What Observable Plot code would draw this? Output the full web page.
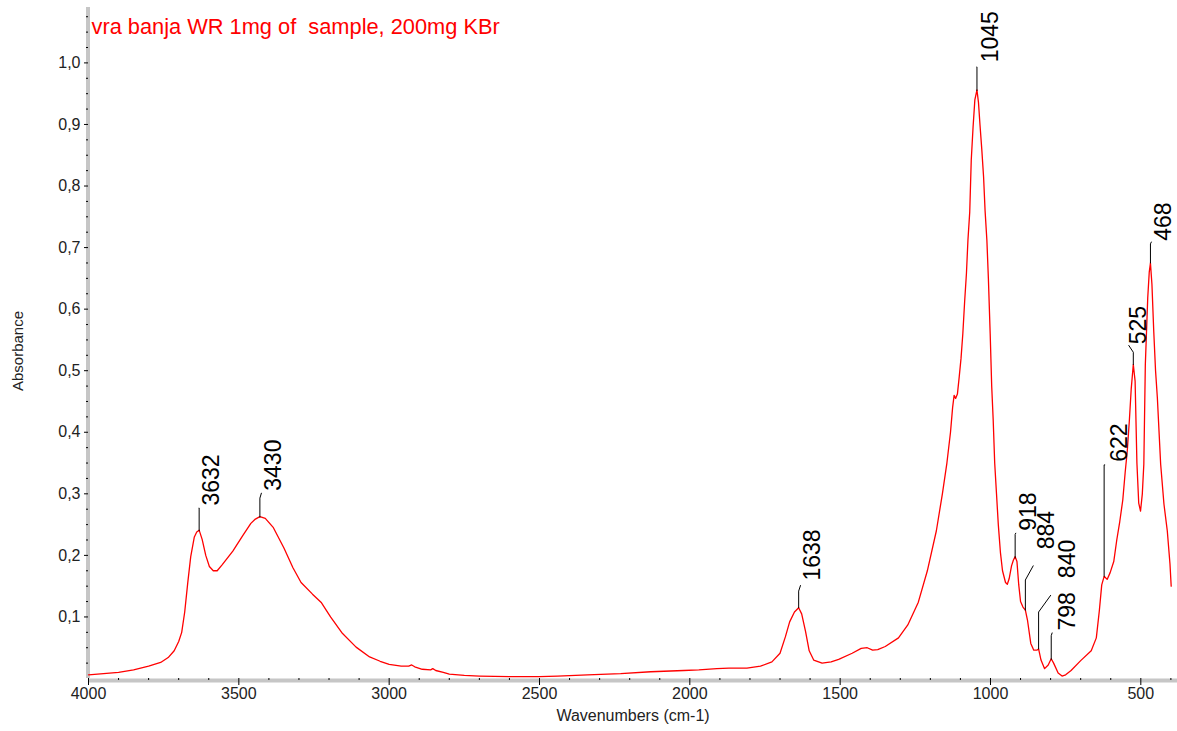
<!DOCTYPE html>
<html><head><meta charset="utf-8">
<script src="https://cdn.jsdelivr.net/npm/d3@7"></script>
<script src="https://cdn.jsdelivr.net/npm/@observablehq/plot@0.6"></script>
<style>
body{margin:0;background:#fff;}
svg{display:block;}
</style>
</head><body><div id="chart"></div>
<script>
const title = "vra banja WR 1mg of  sample, 200mg KBr";
const xLabel = "Wavenumbers (cm-1)";
const yLabel = "Absorbance";

const wavenumbers = [4000,3950,3900,3850,3800,3760,3735,3715,3700,3690,3680,3670,3660,3648,3640,3632,3622,3610,3598,3585,3572,3555,3520,3487,3460,3445,3430,3412,3385,3350,3320,3293,3255,3225,3195,3155,3110,3065,3030,3000,2960,2935,2925,2915,2890,2862,2855,2845,2820,2800,2750,2700,2600,2500,2440,2340,2230,2130,2020,1970,1910,1870,1810,1765,1727,1700,1682,1668,1652,1638,1628,1615,1603,1588,1560,1530,1505,1460,1430,1410,1392,1375,1350,1306,1275,1240,1210,1180,1160,1145,1133,1126,1121,1116,1110,1104,1098,1092,1086,1080,1075,1069,1064,1058,1052,1045,1040,1035,1029,1023,1018,1012,1007,1001,996,991,986,980,974,967,960,950,944,938,930,924,918,912,906,900,892,884,877,866,856,846,840,832,820,808,798,790,775,762,750,732,700,665,648,638,630,622,612,602,590,580,570,560,552,545,538,532,525,519,513,507,501,495,490,485,477,472,468,463,457,451,445,434,423,412,403,399];
const absorbance = [0.006,0.008,0.010,0.014,0.020,0.026,0.034,0.045,0.060,0.075,0.108,0.155,0.198,0.230,0.238,0.241,0.226,0.200,0.182,0.175,0.175,0.185,0.207,0.232,0.252,0.259,0.263,0.260,0.245,0.212,0.180,0.156,0.137,0.123,0.100,0.073,0.051,0.035,0.028,0.023,0.020,0.020,0.022,0.019,0.015,0.014,0.016,0.013,0.010,0.007,0.005,0.004,0.003,0.003,0.004,0.006,0.008,0.011,0.013,0.014,0.016,0.017,0.017,0.020,0.027,0.041,0.068,0.092,0.108,0.115,0.105,0.076,0.045,0.030,0.025,0.027,0.031,0.041,0.049,0.050,0.046,0.047,0.052,0.066,0.087,0.124,0.175,0.240,0.300,0.350,0.400,0.440,0.460,0.455,0.462,0.490,0.520,0.560,0.612,0.658,0.712,0.758,0.842,0.895,0.940,0.956,0.936,0.900,0.860,0.815,0.760,0.712,0.650,0.560,0.475,0.420,0.350,0.300,0.250,0.205,0.175,0.156,0.153,0.162,0.183,0.192,0.198,0.190,0.152,0.125,0.116,0.111,0.095,0.057,0.046,0.046,0.048,0.030,0.016,0.022,0.032,0.025,0.009,0.004,0.006,0.013,0.029,0.045,0.066,0.110,0.152,0.166,0.161,0.172,0.190,0.225,0.255,0.290,0.335,0.370,0.420,0.470,0.510,0.483,0.350,0.285,0.272,0.300,0.348,0.510,0.618,0.660,0.675,0.640,0.564,0.500,0.456,0.348,0.283,0.240,0.186,0.150];

// peak annotations
const peakLabels = ["3632","3430","1638","1045","918","884","840","798","622","525","468"];
const peakWn     = [3632, 3430, 1638, 1045, 918, 884, 840, 798, 622, 525, 468];
const peakBaseA  = [0.240, 0.262, 0.115, 0.955, 0.196, 0.111, 0.048, 0.031, 0.166, 0.510, 0.675];
const leaderTopA = [0.277, 0.293, 0.142, 0.9935, 0.234, 0.160, 0.108, 0.0695, 0.347, 0.530, 0.706];
const leaderEndW = [3632, 3425, 1632, 1045, 916, 858, 800, 795, 620, 540, 465];
const leaderEndA = [0.277, 0.301, 0.151, 0.9935, 0.236, 0.183, 0.135, 0.074, 0.347, 0.541, 0.709];
const labelWn    = [3589, 3385, 1592, 1001, 872, 814, 745, 745, 569, 508, 423];
const labelA     = [0.281, 0.305, 0.159, 1.001, 0.240, 0.210, 0.163, 0.078, 0.352, 0.543, 0.711];

const xTicks = [4000,3500,3000,2500,2000,1500,1000,500];
const yTicks = [0.1,0.2,0.3,0.4,0.5,0.6,0.7,0.8,0.9,1.0];
const xMinor = d3.range(3900, 399, -100).filter(d => d % 500 !== 0);
const yMinor = d3.range(1, 44).map(i => i * 0.025).filter((d, i) => (i + 1) % 4 !== 0);

const spectrum = wavenumbers.map((w, i) => ({w, a: absorbance[i]}));
const leaders = peakLabels.flatMap((lab, i) => [
  {lab, w: peakWn[i], a: peakBaseA[i]},
  {lab, w: peakWn[i], a: leaderTopA[i]},
  {lab, w: leaderEndW[i], a: leaderEndA[i]}
]);
const labels = peakLabels.map((lab, i) => ({lab, w: labelWn[i], a: labelA[i]}));

const font = "'Liberation Sans', Arial, Helvetica, sans-serif";
const fmtY = d => d.toFixed(1).replace(".", ",");

const chart = Plot.plot({
  width: 1177,
  height: 731,
  marginLeft: 88,
  marginRight: 0,
  marginTop: 7,
  marginBottom: 53,
  style: {fontFamily: font, background: "#fff", overflow: "visible"},
  x: {type: "linear", domain: [4000, 378]},
  y: {type: "linear", domain: [0, 1.09]},
  marks: [
    Plot.ruleX([4000], {stroke: "#c6c6c6", strokeWidth: 4, dx: -0.5}),
    Plot.ruleY([0], {stroke: "#c6c6c6", strokeWidth: 4, dy: 2}),
    Plot.axisY(yMinor, {tickSize: 2, tickFormat: () => "", label: null, stroke: "#000"}),
    Plot.axisX(xMinor, {tickSize: 2, tickFormat: () => "", label: null, stroke: "#000"}),
    Plot.axisY(yTicks, {tickSize: 4, tickPadding: 4, fontSize: 16, tickFormat: fmtY, label: null, stroke: "#000", fill: "#222"}),
    Plot.axisX(xTicks, {tickSize: 7, tickPadding: 2, fontSize: 16, tickFormat: d => String(d), label: null, stroke: "#000", fill: "#222"}),
    Plot.text([yLabel], {text: d => d, frameAnchor: "left", dx: -70, dy: 8, rotate: -90, fontSize: 15, fill: "#222", textAnchor: "middle"}),
    Plot.text([xLabel], {text: d => d, frameAnchor: "bottom", dy: 42, fontSize: 16, fill: "#222", textAnchor: "middle"}),
    Plot.line(spectrum, {x: "w", y: "a", stroke: "#ff0000", strokeWidth: 1.3}),
    Plot.line(leaders, {x: "w", y: "a", z: "lab", stroke: "#000", strokeWidth: 1}),
    Plot.text(labels, {x: "w", y: "a", text: "lab", rotate: -90, textAnchor: "start", fontSize: 23, fill: "#000"}),
    Plot.text([title], {text: d => d, frameAnchor: "top-left", textAnchor: "start", lineAnchor: "top", dx: 3, dy: 11, fontSize: 21.8, fill: "#ff0000"})
  ]
});
document.getElementById("chart").appendChild(chart);
</script>
</body></html>
